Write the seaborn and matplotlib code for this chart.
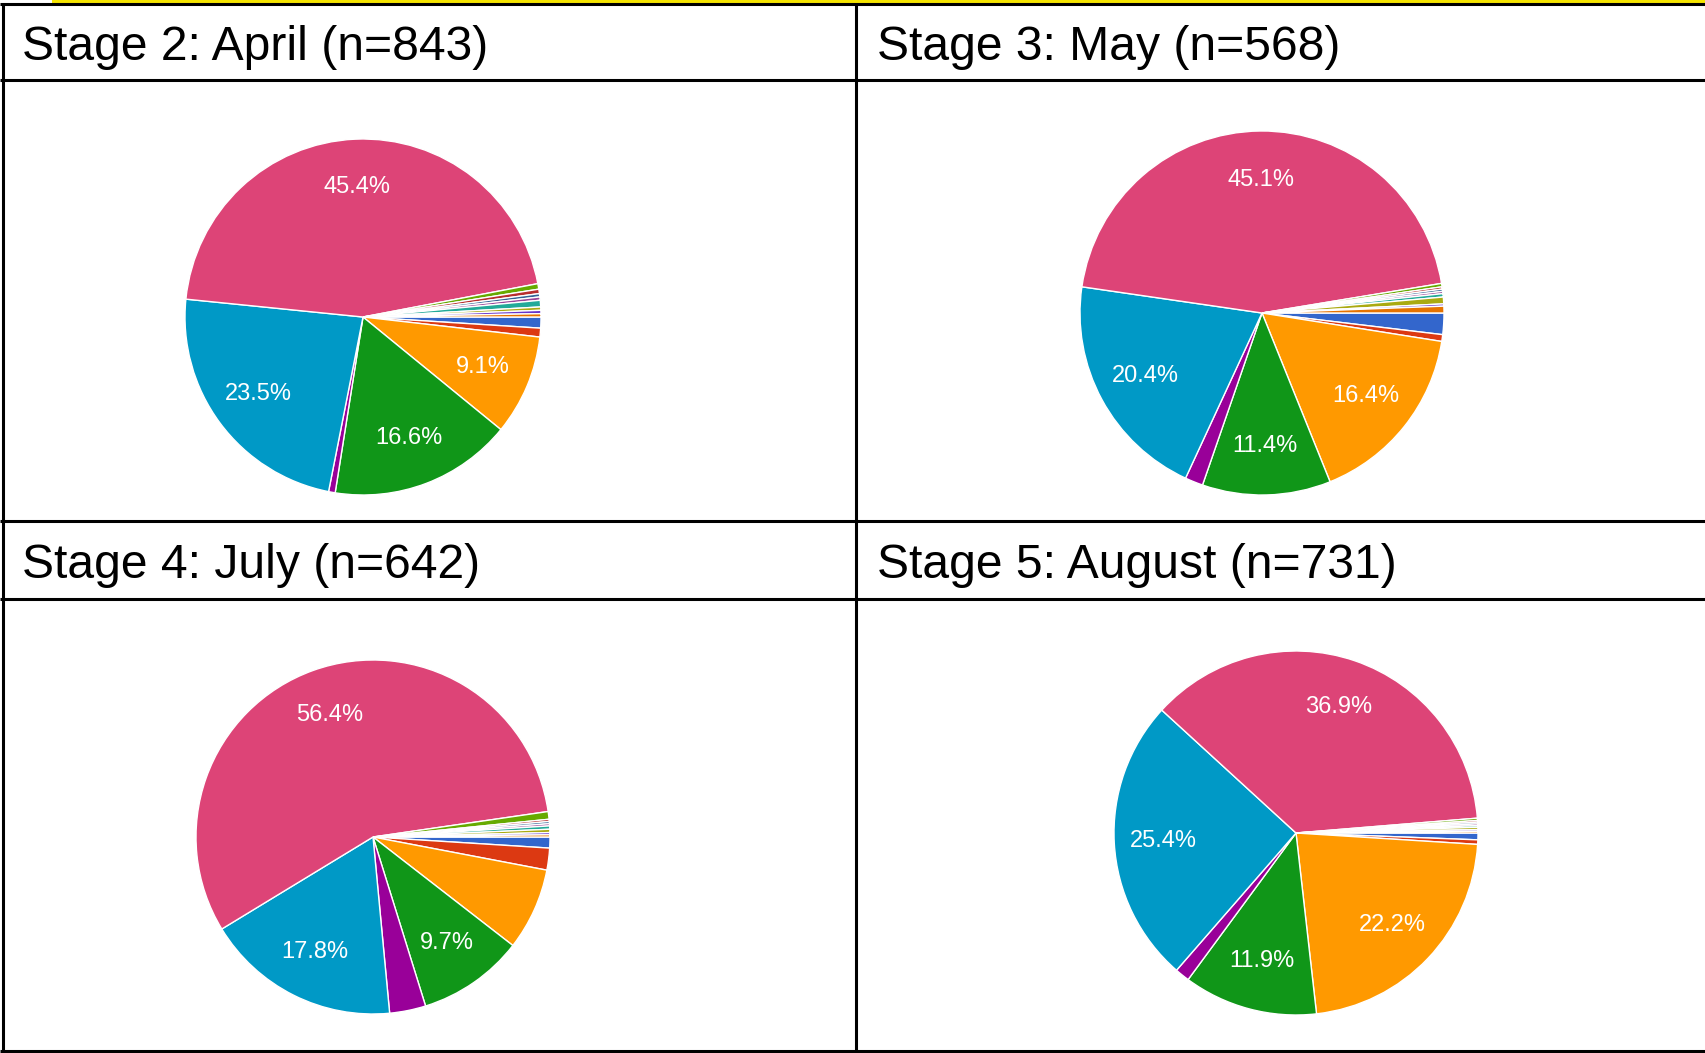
import matplotlib
matplotlib.use("Agg")
import matplotlib.pyplot as plt
import seaborn as sns

sns.set_theme(style="white")
plt.rcParams['font.family'] = ['Liberation Sans', 'DejaVu Sans']

# Google Forms default palette (slice order)
palette = ['#3366CC', '#DC3912', '#FF9900', '#109618', '#990099', '#0099C6',
           '#DD4477', '#66AA00', '#B82E2E', '#316395', '#994499', '#22AA99',
           '#AAAA11', '#6633CC', '#E67300']

titles = ["Stage 2: April (n=843)", "Stage 3: May (n=568)",
          "Stage 4: July (n=642)", "Stage 5: August (n=731)"]

# percentages per answer option, in slice order
april = [1.0, 0.8, 9.1, 16.6, 0.6, 23.5, 45.4, 0.5, 0.4, 0.3, 0.3, 0.6, 0.3, 0.3, 0.3]
may = [1.9, 0.6, 16.4, 11.4, 1.6, 20.4, 45.1, 0.3, 0.2, 0.2, 0.2, 0.3, 0.6, 0.2, 0.6]
july = [1.0, 2.0, 7.5, 9.7, 3.3, 17.8, 56.4, 0.7, 0.2, 0.2, 0.2, 0.3, 0.3, 0.2, 0.2]
august = [0.6, 0.4, 22.2, 11.9, 1.3, 25.4, 36.9, 0.2, 0.15, 0.15, 0.15, 0.15, 0.2, 0.15, 0.15]
series = [april, may, july, august]

W, H = 1706, 1053
fig = plt.figure(figsize=(W / 100, H / 100), dpi=100)
ax = fig.add_axes([0, 0, 1, 1])
ax.set_xlim(0, W)
ax.set_ylim(0, H)
ax.axis('off')

# layout (pixel coords, y from top)
pie_centers = [(363, 317), (1262, 313), (373, 837), (1296, 833)]
pie_radii = [178, 182, 177, 182]
title_pos = [(22, 48), (877, 48), (22, 565), (877, 565)]

for vals, (cx, cy), r in zip(series, pie_centers, pie_radii):
    ax.pie(vals, colors=palette[:len(vals)], startangle=0, counterclock=False,
           center=(cx, H - cy), radius=r, frame=True,
           wedgeprops=dict(edgecolor='white', linewidth=1.0),
           autopct=lambda p: f"{p:.1f}%" if p >= 8 else "",
           pctdistance=0.73,
           textprops=dict(color='white', fontsize=17))

ax.set_xlim(0, W)
ax.set_ylim(0, H)
ax.axis('off')

for t, (x, y) in zip(titles, title_pos):
    ax.text(x, H - y, t, fontsize=34.6, color='black', ha='left', va='center')

lw = 2.2
# yellow strip at top
ax.add_patch(plt.Rectangle((52, H - 3), W - 52, 3, color='#F5E400', lw=0, zorder=5))
for y in [4, 80, 521, 599, 1051]:
    ax.plot([0, W], [H - y, H - y], color='black', lw=lw, solid_capstyle='butt', zorder=6)
for x in [3, 856]:
    ax.plot([x, x], [H - 4, H - 1051], color='black', lw=lw, solid_capstyle='butt', zorder=6)

fig.savefig("out.png", dpi=100)
